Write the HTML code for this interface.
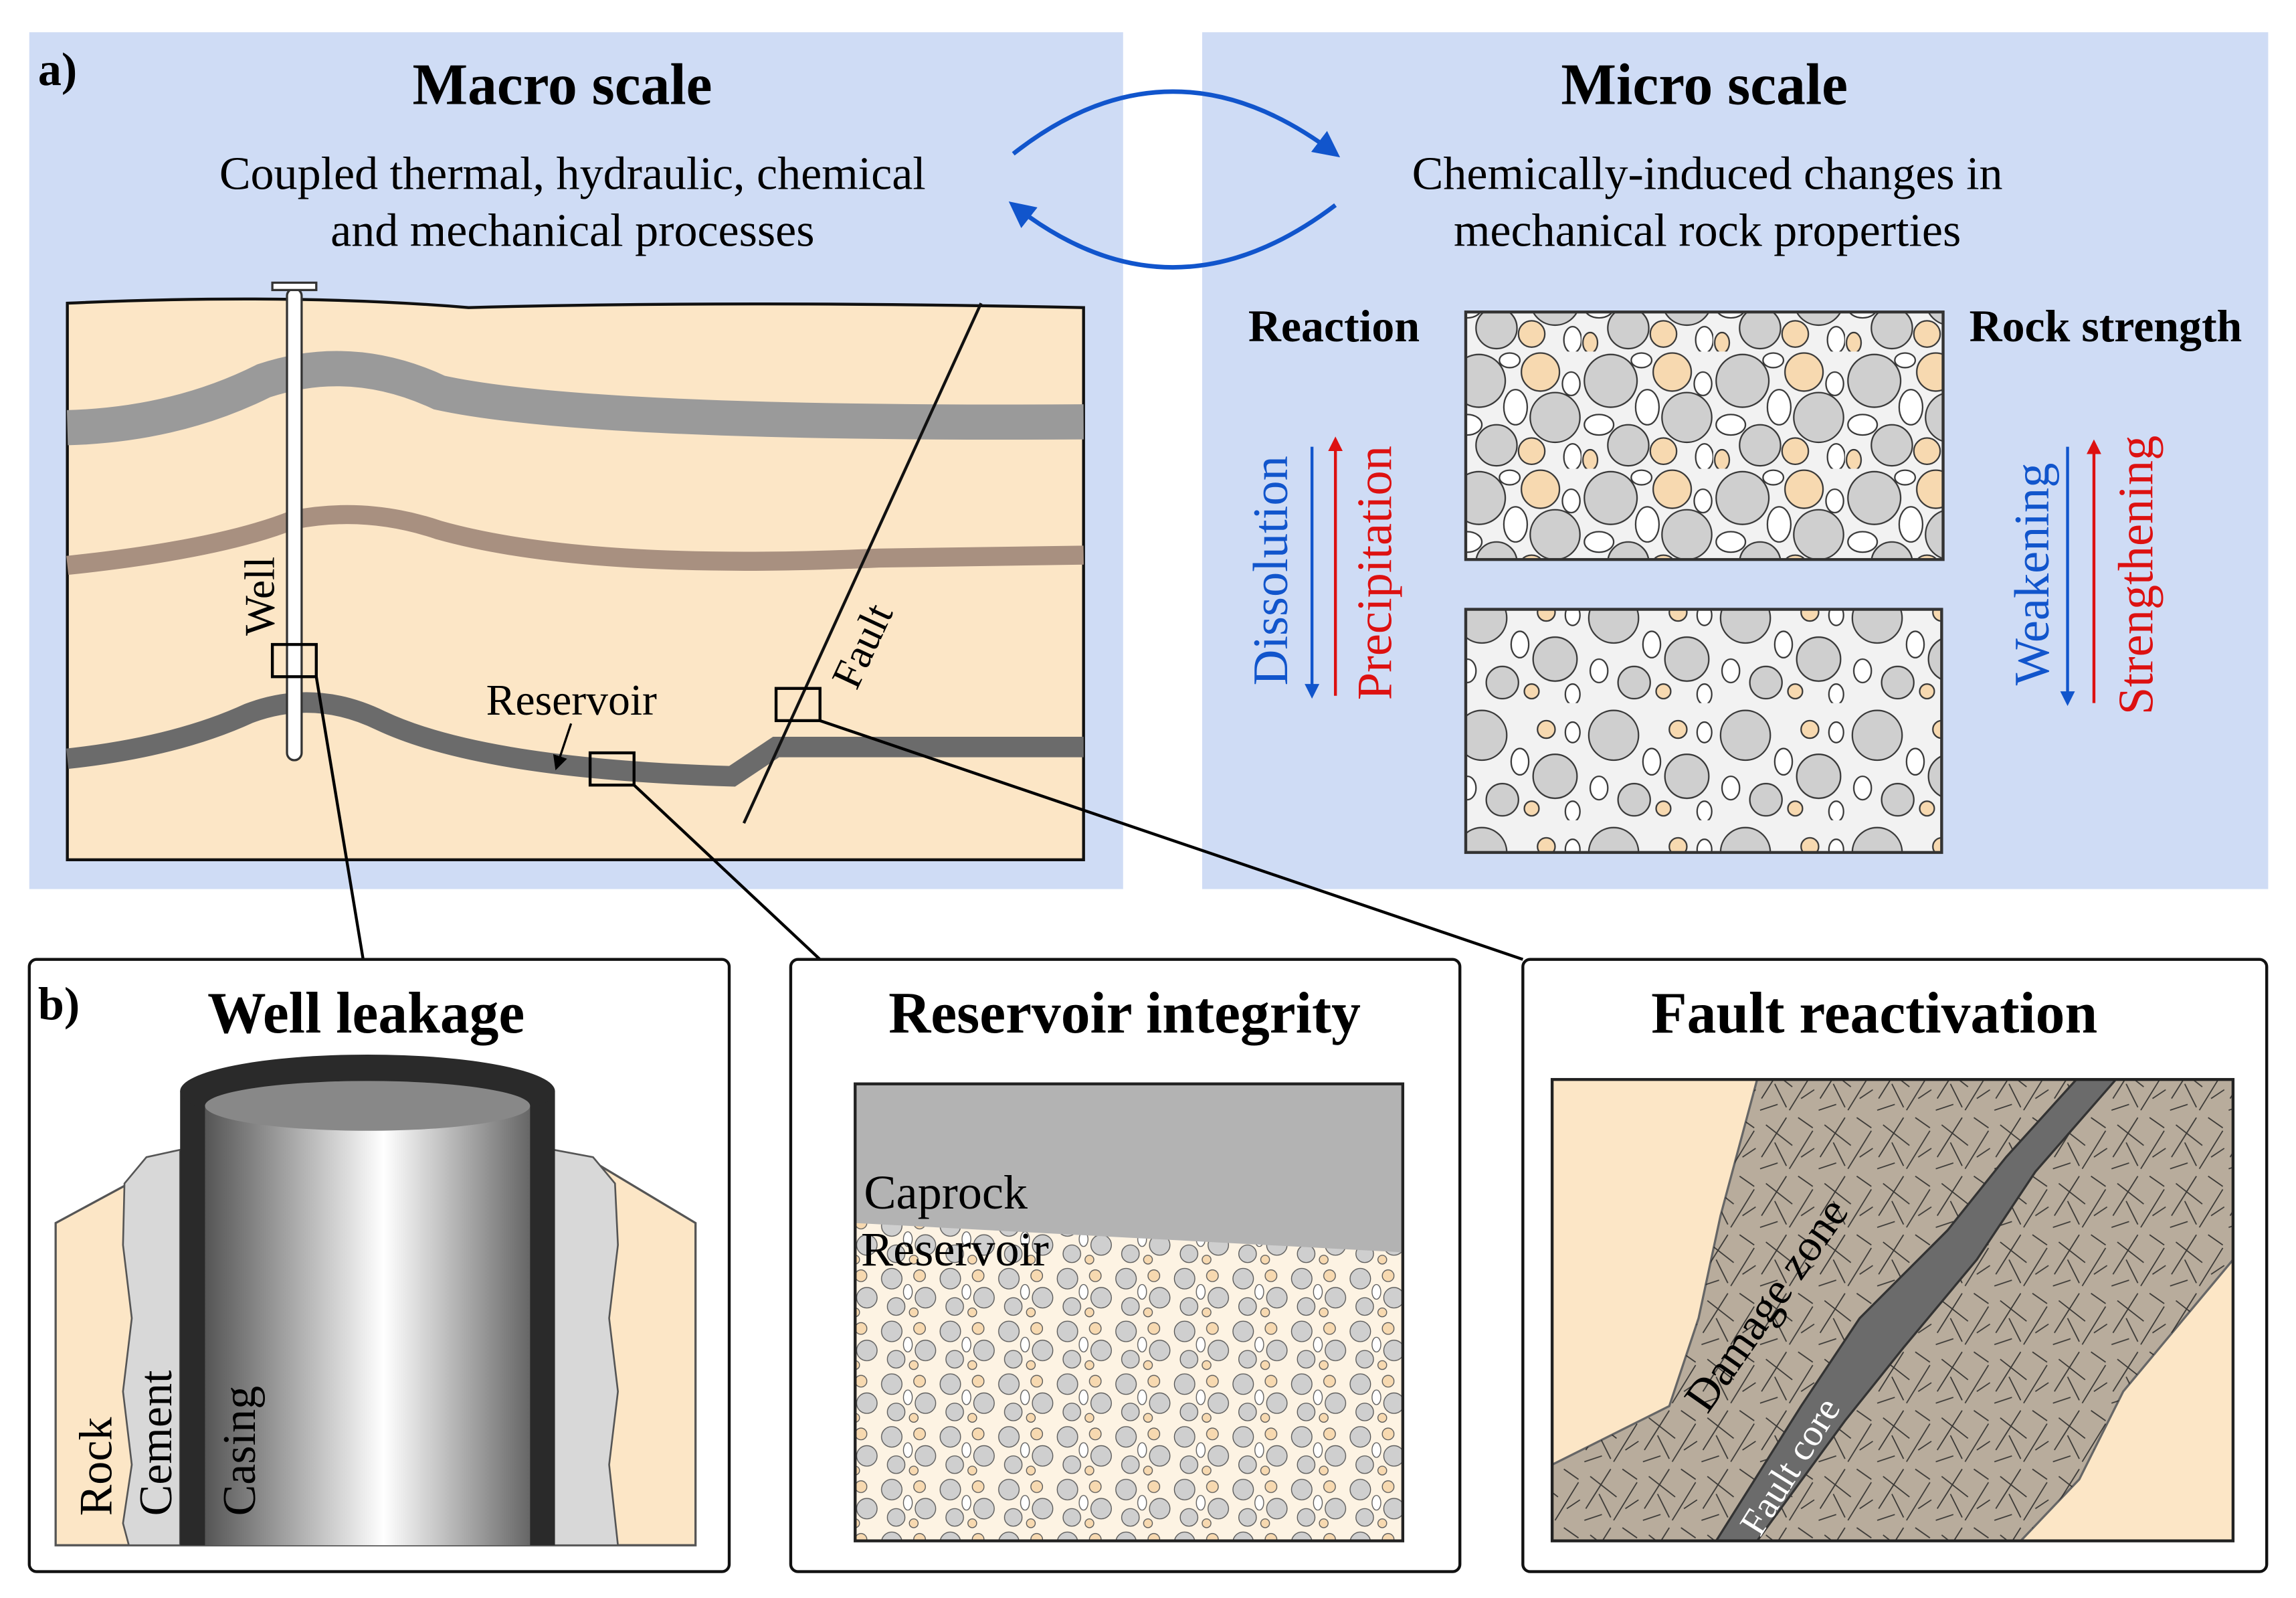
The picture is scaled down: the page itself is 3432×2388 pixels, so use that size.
<!DOCTYPE html>
<html><head><meta charset="utf-8"><style>
html,body{margin:0;padding:0;background:#fff;}
svg{display:block;}
text{font-family:"Liberation Serif",serif;}
</style></head><body>
<svg width="3432" height="2388" viewBox="0 0 1568 1091" xmlns="http://www.w3.org/2000/svg">
<defs>
<pattern id="grains" width="90" height="80" patternUnits="userSpaceOnUse">
<rect width="90" height="80" fill="#f2f2f2"/>
<circle cx="20" cy="20" r="18" fill="#cfcfcf" stroke="#333" stroke-width="1"/>
<circle cx="62" cy="14" r="13" fill="#f7d9b0" stroke="#333" stroke-width="1"/>
<ellipse cx="45" cy="38" rx="8" ry="12" fill="#fff" stroke="#333" stroke-width="1"/>
<circle cx="72" cy="45" r="17" fill="#cfcfcf" stroke="#333" stroke-width="1"/>
<ellipse cx="12" cy="50" rx="10" ry="7" fill="#fff" stroke="#333" stroke-width="1"/>
<circle cx="32" cy="64" r="14" fill="#cfcfcf" stroke="#333" stroke-width="1"/>
<circle cx="56" cy="68" r="9" fill="#f7d9b0" stroke="#333" stroke-width="1"/>
<ellipse cx="84" cy="72" rx="6" ry="9" fill="#fff" stroke="#333" stroke-width="1"/>
<ellipse cx="41" cy="6" rx="7" ry="5" fill="#fff" stroke="#333" stroke-width="1"/>
<ellipse cx="83" cy="22" rx="6" ry="8" fill="#fff" stroke="#333" stroke-width="1"/>
<ellipse cx="6" cy="74" rx="5" ry="7" fill="#f7d9b0" stroke="#333" stroke-width="1"/>
</pattern>
<pattern id="grains2" width="90" height="80" patternUnits="userSpaceOnUse">
<rect width="90" height="80" fill="#f2f2f2"/>
<circle cx="22" cy="22" r="17" fill="#cfcfcf" stroke="#333" stroke-width="1"/>
<circle cx="66" cy="18" r="6" fill="#f7d9b0" stroke="#333" stroke-width="1"/>
<ellipse cx="48" cy="40" rx="6" ry="9" fill="#fff" stroke="#333" stroke-width="1"/>
<circle cx="72" cy="50" r="15" fill="#cfcfcf" stroke="#333" stroke-width="1"/>
<ellipse cx="12" cy="58" rx="6" ry="8" fill="#fff" stroke="#333" stroke-width="1"/>
<circle cx="36" cy="66" r="11" fill="#cfcfcf" stroke="#333" stroke-width="1"/>
<circle cx="56" cy="72" r="5" fill="#f7d9b0" stroke="#333" stroke-width="1"/>
<ellipse cx="84" cy="74" rx="5" ry="7" fill="#fff" stroke="#333" stroke-width="1"/>
<ellipse cx="84" cy="20" rx="5" ry="7" fill="#fff" stroke="#333" stroke-width="1"/>
</pattern>
<pattern id="sgrains" width="40" height="36" patternUnits="userSpaceOnUse">
<rect width="40" height="36" fill="#fdf3e3"/>
<circle cx="9" cy="9" r="7" fill="#cfcfcf" stroke="#555" stroke-width=".6"/>
<circle cx="28" cy="7" r="4" fill="#f7d9b0" stroke="#555" stroke-width=".6"/>
<ellipse cx="20" cy="18" rx="3" ry="5" fill="#fff" stroke="#555" stroke-width=".6"/>
<circle cx="32" cy="22" r="7" fill="#cfcfcf" stroke="#555" stroke-width=".6"/>
<circle cx="12" cy="28" r="6" fill="#cfcfcf" stroke="#555" stroke-width=".6"/>
<circle cx="24" cy="32" r="3" fill="#f7d9b0" stroke="#555" stroke-width=".6"/>
</pattern>
<pattern id="cracks" width="40" height="40" patternUnits="userSpaceOnUse">
<g stroke="#222" stroke-width=".8">
<line x1="3" y1="30" x2="20" y2="3"/><line x1="22" y1="38" x2="38" y2="12"/>
<line x1="6" y1="8" x2="24" y2="22"/><line x1="28" y1="3" x2="38" y2="10"/>
<line x1="2" y1="38" x2="14" y2="34"/><line x1="30" y1="30" x2="39" y2="24"/>
<line x1="12" y1="20" x2="20" y2="36"/>
</g></pattern>
<linearGradient id="cas" x1="0" x2="1">
<stop offset="0" stop-color="#555"/><stop offset=".55" stop-color="#fff"/><stop offset="1" stop-color="#666"/>
</linearGradient>
<marker id="ab" markerWidth="10" markerHeight="10" refX="8" refY="5" orient="auto" markerUnits="userSpaceOnUse"><path d="M0,0L10,5L0,10z" fill="#1155cc"/></marker>
<marker id="ar" markerWidth="10" markerHeight="10" refX="8" refY="5" orient="auto" markerUnits="userSpaceOnUse"><path d="M0,0L10,5L0,10z" fill="#dd1111"/></marker>
<marker id="ak" markerWidth="10" markerHeight="10" refX="8" refY="5" orient="auto" markerUnits="userSpaceOnUse"><path d="M0,0L10,5L0,10z" fill="#000"/></marker>
<marker id="abig" markerWidth="18" markerHeight="18" refX="14" refY="9" orient="auto" markerUnits="userSpaceOnUse"><path d="M0,0L18,9L0,18z" fill="#1155cc"/></marker>
</defs>

<rect x="20" y="22" width="747" height="585" fill="#cfdcf5"/>
<rect x="821" y="22" width="728" height="585" fill="#cfdcf5"/>
<text x="26" y="58" font-size="32" font-weight="bold">a)</text>
<text x="384" y="71" font-size="40" font-weight="bold" text-anchor="middle">Macro scale</text>
<text x="391" y="129" font-size="32" text-anchor="middle">Coupled thermal, hydraulic, chemical</text>
<text x="391" y="168" font-size="32" text-anchor="middle">and mechanical processes</text>
<text x="1164" y="71" font-size="40" font-weight="bold" text-anchor="middle">Micro scale</text>
<text x="1166" y="129" font-size="32" text-anchor="middle">Chemically-induced changes in</text>
<text x="1166" y="168" font-size="32" text-anchor="middle">mechanical rock properties</text>

<path d="M692,105 Q800,20 912,105" fill="none" stroke="#1155cc" stroke-width="3" marker-end="url(#abig)"/>
<path d="M912,140 Q800,225 692,140" fill="none" stroke="#1155cc" stroke-width="3" marker-end="url(#abig)"/>

<path d="M46,207 Q200,200 320,210 Q500,205 740,210 L740,587 L46,587 Z" fill="#fce6c6" stroke="#111" stroke-width="2"/>
<path d="M46,292 Q120,290 180,260 Q240,240 300,268 Q400,290 740,288" fill="none" stroke="#9a9a9a" stroke-width="24"/>
<path d="M46,386 Q150,375 200,355 Q250,345 300,362 Q400,390 600,381 L740,379" fill="none" stroke="#a89080" stroke-width="13"/>
<path d="M46,518 Q120,510 170,487 Q215,470 260,492 Q330,525 500,530 L530,510 L740,510" fill="none" stroke="#6b6b6b" stroke-width="14"/>
<line x1="670" y1="207" x2="508" y2="562" stroke="#111" stroke-width="2"/>
<rect x="196" y="197" width="10" height="322" rx="5" fill="#fff" stroke="#333" stroke-width="1.5"/>
<rect x="186" y="193" width="30" height="5" fill="#fff" stroke="#333" stroke-width="1.5"/>
<text font-size="29" transform="translate(187,434) rotate(-90)">Well</text>
<text font-size="29" transform="translate(585,472) rotate(-65)">Fault</text>
<text x="332" y="488" font-size="30">Reservoir</text>
<line x1="390" y1="494" x2="380" y2="524" stroke="#000" stroke-width="1.5" marker-end="url(#ak)"/>
<rect x="186" y="440" width="30" height="22" fill="none" stroke="#000" stroke-width="2"/>
<rect x="403" y="514" width="30" height="22" fill="none" stroke="#000" stroke-width="2"/>
<rect x="530" y="470" width="30" height="22" fill="none" stroke="#000" stroke-width="2"/>
<line x1="216" y1="462" x2="248" y2="655" stroke="#000" stroke-width="2"/>
<line x1="433" y1="536" x2="560" y2="655" stroke="#000" stroke-width="2"/>
<line x1="560" y1="492" x2="1040" y2="655" stroke="#000" stroke-width="2"/>

<text x="911" y="233" font-size="31" font-weight="bold" text-anchor="middle">Reaction</text>
<text x="1438" y="233" font-size="31" font-weight="bold" text-anchor="middle">Rock strength</text>
<rect x="1001" y="213" width="326" height="169" fill="url(#grains)" stroke="#333" stroke-width="2"/>
<rect x="1001" y="416" width="325" height="166" fill="url(#grains2)" stroke="#333" stroke-width="2"/>
<line x1="896" y1="305" x2="896" y2="475" stroke="#1155cc" stroke-width="2" marker-end="url(#ab)"/>
<line x1="912" y1="475" x2="912" y2="300" stroke="#dd1111" stroke-width="2" marker-end="url(#ar)"/>
<text font-size="34" fill="#1155cc" transform="translate(879,468) rotate(-90)">Dissolution</text>
<text font-size="34" fill="#dd1111" transform="translate(950,478) rotate(-90)">Precipitation</text>
<line x1="1412" y1="305" x2="1412" y2="480" stroke="#1155cc" stroke-width="2" marker-end="url(#ab)"/>
<line x1="1430" y1="480" x2="1430" y2="302" stroke="#dd1111" stroke-width="2" marker-end="url(#ar)"/>
<text font-size="34" fill="#1155cc" transform="translate(1399,468) rotate(-90)">Weakening</text>
<text font-size="34" fill="#dd1111" transform="translate(1470,488) rotate(-90)">Strengthening</text>

<rect x="20" y="655" width="478" height="418" rx="5" fill="#fff" stroke="#111" stroke-width="2"/>
<rect x="540" y="655" width="457" height="418" rx="5" fill="#fff" stroke="#111" stroke-width="2"/>
<rect x="1040" y="655" width="508" height="418" rx="5" fill="#fff" stroke="#111" stroke-width="2"/>
<text x="26" y="696" font-size="32" font-weight="bold">b)</text>
<text x="250" y="705" font-size="40" font-weight="bold" text-anchor="middle">Well leakage</text>
<text x="768" y="705" font-size="40" font-weight="bold" text-anchor="middle">Reservoir integrity</text>
<text x="1280" y="705" font-size="40" font-weight="bold" text-anchor="middle">Fault reactivation</text>

<path d="M38,835 L88,808 L120,790 L400,790 L475,835 L475,1055 L38,1055 Z" fill="#fce6c6" stroke="#555" stroke-width="1.5"/>
<path d="M85,808 L100,790 L123,785 L123,1055 L88,1055 L84,1040 L90,1000 L84,950 L90,900 L84,850 Z" fill="#d8d8d8" stroke="#555" stroke-width="1.2"/>
<path d="M378,785 L405,790 L420,808 L422,850 L416,900 L422,950 L416,1000 L422,1055 L378,1055 Z" fill="#d8d8d8" stroke="#555" stroke-width="1.2"/>
<rect x="123" y="745" width="256" height="310" fill="#2a2a2a"/>
<ellipse cx="251" cy="745" rx="128" ry="25" fill="#2a2a2a"/>
<rect x="140" y="755" width="222" height="300" fill="url(#cas)"/>
<ellipse cx="251" cy="755" rx="111" ry="17" fill="#888"/>
<text font-size="32" transform="translate(76,1035) rotate(-90)">Rock</text>
<text font-size="32" transform="translate(117,1035) rotate(-90)">Cement</text>
<text font-size="32" transform="translate(174,1035) rotate(-90)">Casing</text>

<rect x="584" y="740" width="374" height="312" fill="url(#sgrains)"/>
<path d="M584,740 L958,740 L958,855 L584,835 Z" fill="#b3b3b3"/>
<rect x="584" y="740" width="374" height="312" fill="none" stroke="#222" stroke-width="2"/>
<text x="590" y="825" font-size="33">Caprock</text>
<text x="588" y="864" font-size="33">Reservoir</text>

<rect x="1060" y="737" width="465" height="315" fill="#fce6c6"/>
<path d="M1200,737 L1525,737 L1525,860 L1450,950 L1420,1010 L1380,1052 L1060,1052 L1060,1000 L1140,960 L1160,900 L1175,830 Z" fill="#b8ac9c" stroke="#666" stroke-width="1.5"/>
<path d="M1200,737 L1525,737 L1525,860 L1450,950 L1420,1010 L1380,1052 L1060,1052 L1060,1000 L1140,960 L1160,900 L1175,830 Z" fill="url(#cracks)" opacity=".85"/>
<path d="M1418,737 L1445,737 L1390,800 L1350,860 L1300,920 L1260,970 L1200,1052 L1172,1052 L1230,960 L1270,900 L1330,840 L1370,790 Z" fill="#6b6b6b" stroke="#333" stroke-width="1.5"/>
<rect x="1060" y="737" width="465" height="315" fill="none" stroke="#222" stroke-width="2"/>
<text font-size="31" transform="translate(1166,966) rotate(-55)">Damage zone</text>
<text font-size="26" fill="#fff" transform="translate(1202,1050) rotate(-58)">Fault core</text>
</svg>
</body></html>
